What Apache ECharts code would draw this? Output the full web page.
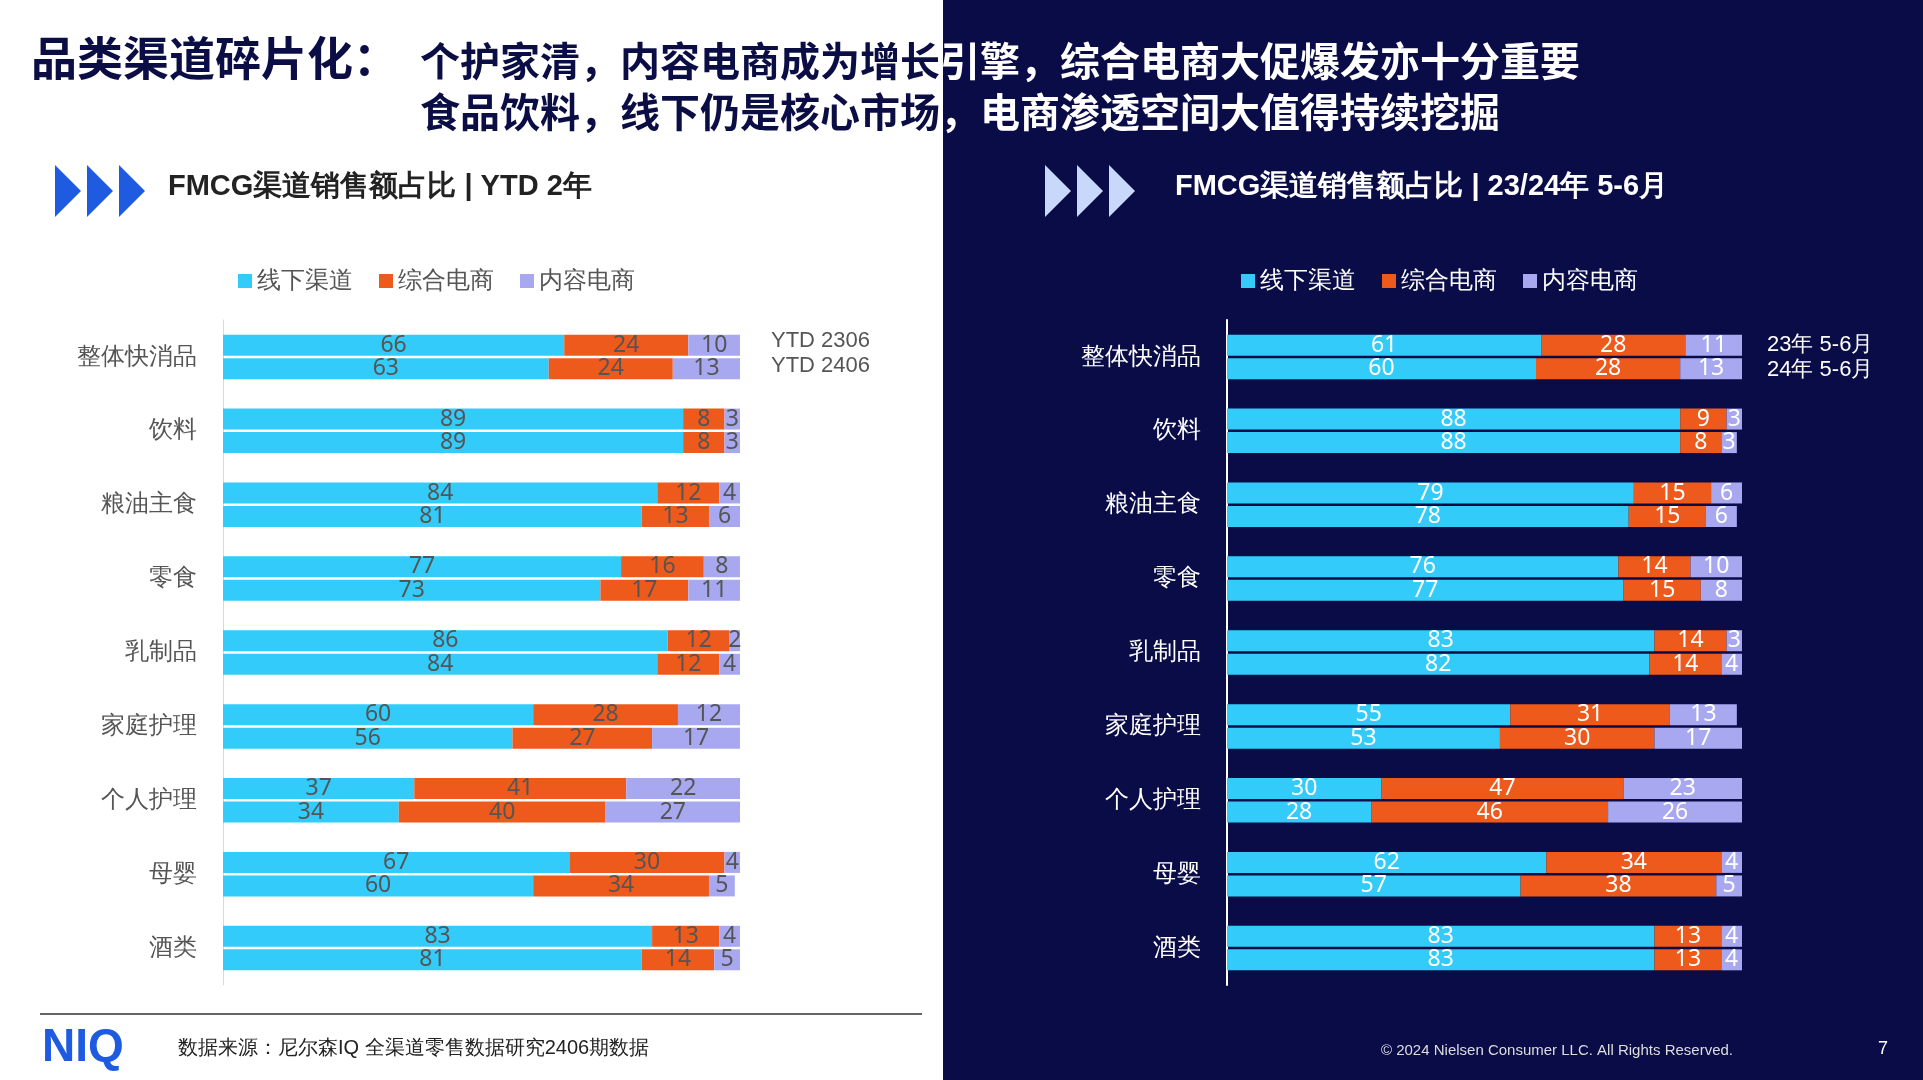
<!DOCTYPE html>
<html><head><meta charset="utf-8">
<script src="https://cdn.jsdelivr.net/npm/echarts@6/dist/echarts.min.js"></script>
<style>
body{margin:0;width:1923px;height:1080px;overflow:hidden;font-family:"Noto Sans CJK SC","Noto Sans",sans-serif;}
#c{position:absolute;left:0;top:0;width:1923px;height:1080px;}
.t{position:absolute;top:0;left:0;height:140px;white-space:nowrap;font-weight:bold;}
.t div{position:absolute;}
</style></head><body>
<div id="c"></div>
<div class="t" id="tDark" style="width:943px;overflow:hidden;color:#0b0d45"></div>
<div class="t" id="tLight" style="left:943px;width:980px;overflow:hidden;color:#fff"></div>
<script>
const categories=['整体快消品','饮料','粮油主食','零食','乳制品','家庭护理','个人护理','母婴','酒类'];
const seriesNames=['线下渠道','综合电商','内容电商'];
const ytd23Off=[66,89,84,77,86,60,37,67,83];
const ytd23Ecom=[24,8,12,16,12,28,41,30,13];
const ytd23Cont=[10,3,4,8,2,12,22,4,4];
const ytd24Off=[63,89,81,73,84,56,34,60,81];
const ytd24Ecom=[24,8,13,17,12,27,40,34,14];
const ytd24Cont=[13,3,6,11,4,17,27,5,5];
const mj23Off=[61,88,79,76,83,55,30,62,83];
const mj23Ecom=[28,9,15,14,14,31,47,34,13];
const mj23Cont=[11,3,6,10,3,13,23,4,4];
const mj24Off=[60,88,78,77,82,53,28,57,83];
const mj24Ecom=[28,8,15,15,14,30,46,38,13];
const mj24Cont=[13,3,6,8,4,17,26,5,4];
const colors=['#33CCFA','#EE5A1B','#A8A8F0'];

const titleHTML=`<div style="left:31px;top:22px;font-size:46px">品类渠道碎片化：</div>
<div style="left:420px;top:30px;font-size:40px">个护家清，内容电商成为增长引擎，综合电商大促爆发亦十分重要</div>
<div style="left:420px;top:81px;font-size:40px">食品饮料，线下仍是核心市场，电商渗透空间大值得持续挖掘</div>`;
document.getElementById('tDark').innerHTML=titleHTML;
document.getElementById('tLight').innerHTML='<div style="left:-943px;top:0;width:1923px;height:140px">'+titleHTML+'</div>';

function mk(gi,stack,name,data,color,lc){
  return {type:'bar',name:name,xAxisIndex:gi,yAxisIndex:gi,stack:stack+gi,data:data,barWidth:21,barGap:'12%',
    itemStyle:{color:color},label:{show:true,position:'inside',color:lc,fontSize:23,fontFamily:'Noto Sans'}};
}
const series=[];
[[ytd23Off,ytd23Ecom,ytd23Cont,ytd24Off,ytd24Ecom,ytd24Cont,'#555'],[mj23Off,mj23Ecom,mj23Cont,mj24Off,mj24Ecom,mj24Cont,'#fff']].forEach((s,gi)=>{
  for(let k=0;k<3;k++) series.push(mk(gi,'a',seriesNames[k],s[k],colors[k],s[6]));
  for(let k=0;k<3;k++) series.push(mk(gi,'b',seriesNames[k],s[3+k],colors[k],s[6]));
});
function tri(x,y,c){return {type:'polygon',shape:{points:[[x,y],[x+26,y+26],[x,y+52]]},style:{fill:c}};}
const chart=echarts.init(document.getElementById('c'));
chart.setOption({
  animation:false,
  grid:[{left:223,width:517,top:320,height:665},{left:1227,width:515,top:320,height:665}],
  xAxis:[0,1].map(i=>({gridIndex:i,type:'value',min:0,max:100,show:false})),
  yAxis:[0,1].map(i=>({gridIndex:i,type:'category',inverse:true,data:categories,
    axisLine:{show:true,lineStyle:{color:i?'#ffffff':'#d9d9d9',width:i?2:1}},axisTick:{show:false},
    axisLabel:{fontSize:24,color:i?'#fff':'#555',margin:i?26:26}})),
  legend:[
    {left:233,top:264,itemWidth:14,itemHeight:14,itemGap:26,textStyle:{fontSize:24,color:'#555'},data:seriesNames,icon:'rect'},
    {left:1236,top:264,itemWidth:14,itemHeight:14,itemGap:26,textStyle:{fontSize:24,color:'#fff'},data:seriesNames,icon:'rect'}
  ],
  series:series,
  graphic:[
    {type:'rect',z:-10,shape:{x:943,y:0,width:980,height:1080},style:{fill:'#0a0c48'}},
    tri(55,165,'#1e5be0'),tri(87,165,'#1e5be0'),tri(119,165,'#1e5be0'),
    tri(1045,165,'#c8d8fa'),tri(1077,165,'#c8d8fa'),tri(1109,165,'#c8d8fa'),
    {type:'text',left:168,top:172,style:{text:'FMCG渠道销售额占比 | YTD 2年',fontSize:29,fontWeight:'bold',fill:'#222'}},
    {type:'text',left:1175,top:172,style:{text:'FMCG渠道销售额占比 | 23/24年 5-6月',fontSize:29,fontWeight:'bold',fill:'#fff'}},
    {type:'text',left:771,top:330,style:{text:'YTD 2306',fontSize:22,fill:'#555'}},
    {type:'text',left:771,top:355,style:{text:'YTD 2406',fontSize:22,fill:'#555'}},
    {type:'text',left:1767,top:334,style:{text:'23年 5-6月',fontSize:22,fill:'#fff'}},
    {type:'text',left:1767,top:359,style:{text:'24年 5-6月',fontSize:22,fill:'#fff'}},
    {type:'line',shape:{x1:40,y1:1014,x2:922,y2:1014},style:{stroke:'#666',lineWidth:2}},
    {type:'text',left:42,top:1025,style:{text:'NIQ',fontSize:46,fontWeight:'bold',fill:'#1e5be0',fontFamily:'Liberation Sans'}},
    {type:'text',left:178,top:1038,style:{text:'数据来源：尼尔森IQ 全渠道零售数据研究2406期数据',fontSize:20,fill:'#222'}},
    {type:'text',right:190,top:1043,style:{text:'© 2024 Nielsen Consumer LLC. All Rights Reserved.',fontSize:15,fill:'#ddd'}},
    {type:'text',left:1878,top:1040,style:{text:'7',fontSize:18,fill:'#fff'}}
  ]
});
</script></body></html>
